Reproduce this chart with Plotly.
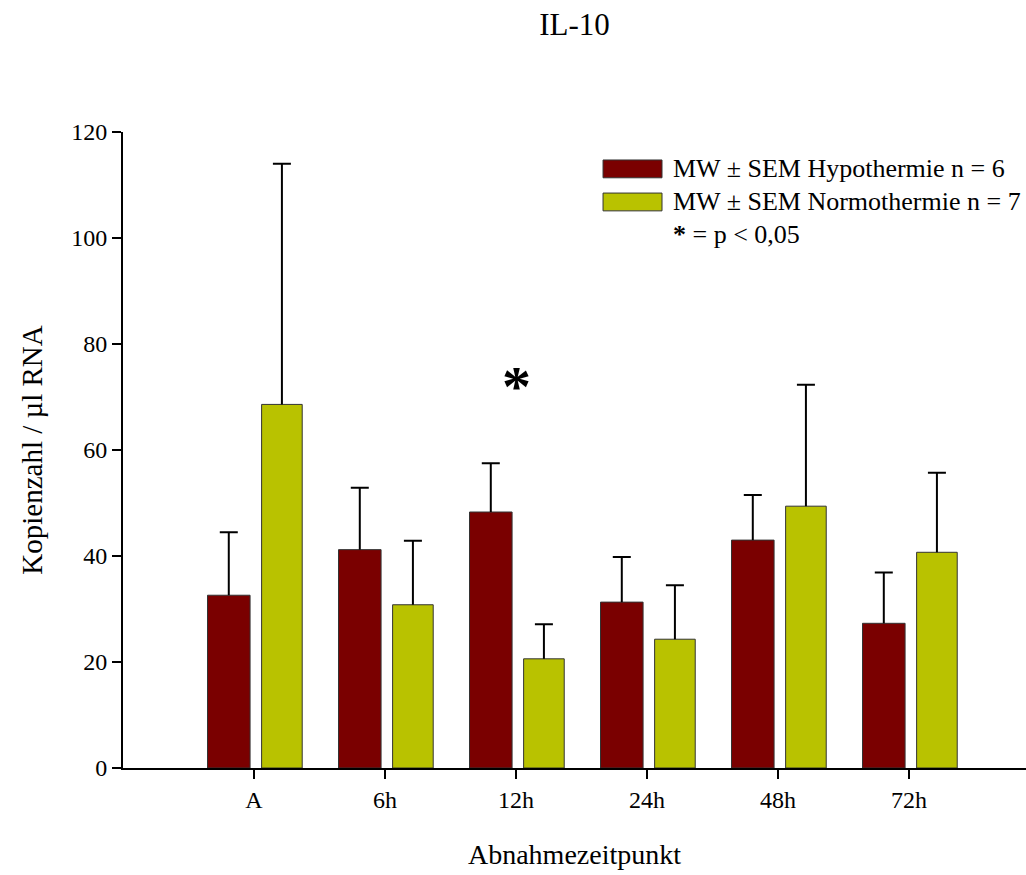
import plotly.graph_objects as go

# Sampling times and group means / SEM (copies per µl RNA)
categories = ["A", "6h", "12h", "24h", "48h", "72h"]
hypo_mean = [32.6, 41.2, 48.3, 31.3, 43.0, 27.3]
hypo_sem = [11.9, 11.7, 9.2, 8.5, 8.5, 9.6]
normo_mean = [68.6, 30.8, 20.6, 24.3, 49.4, 40.7]
normo_sem = [45.4, 12.1, 6.5, 10.2, 22.9, 15.0]

hypo_name = "MW ± SEM Hypothermie n = 6"
normo_name = "MW ± SEM Normothermie n = 7"
sig_note = "<b>*</b> = p < 0,05"
sig_category = "12h"
sig_level = 72

hypo_color = "#7a0000"
normo_color = "#b9c200"
font_family = "Liberation Serif, Times New Roman, serif"

groups = [
    (hypo_name, hypo_mean, hypo_sem, hypo_color, 0.325, -0.355),
    (normo_name, normo_mean, normo_sem, normo_color, 0.31, 0.058),
]

fig = go.Figure()

for name, mean, sem, color, w, off in groups:
    # filled bar
    fig.add_trace(go.Bar(
        x=categories, y=mean, name=name, width=w, offset=off,
        marker=dict(color=color, line=dict(color="#333333", width=1)),
        showlegend=False,
    ))
    # upward SEM stem without any cross-bar
    fig.add_trace(go.Bar(
        x=categories, y=mean, width=w, offset=off,
        marker=dict(color="rgba(0,0,0,0)", line=dict(width=0)),
        error_y=dict(type="data", array=sem, arrayminus=[0] * len(sem),
                     symmetric=False, color="black", thickness=2, width=0),
        showlegend=False, hoverinfo="skip",
    ))
    # cross-bar at the top of the whisker only
    tops = [m + s for m, s in zip(mean, sem)]
    fig.add_trace(go.Bar(
        x=categories, y=tops, width=w, offset=off,
        marker=dict(color="rgba(0,0,0,0)", line=dict(width=0)),
        error_y=dict(type="data", array=[0] * len(sem), arrayminus=[0] * len(sem),
                     symmetric=False, color="black", thickness=2, width=9),
        showlegend=False, hoverinfo="skip",
    ))

# Hand-built legend: wide colour swatches with text beside them
legend_rows = [(hypo_color, hypo_name, 0.942), (normo_color, normo_name, 0.890)]
for color, label, yc in legend_rows:
    fig.add_shape(type="rect", xref="paper", yref="paper",
                  x0=0.5316, x1=0.5969, y0=yc - 0.014, y1=yc + 0.014,
                  fillcolor=color, line=dict(color="#333333", width=1))
    fig.add_annotation(xref="paper", yref="paper", x=0.607, y=yc,
                       text=label, showarrow=False, xanchor="left", yanchor="middle",
                       font=dict(family=font_family, size=26, color="black"))
fig.add_annotation(xref="paper", yref="paper", x=0.607, y=0.8396,
                   text=sig_note, showarrow=False, xanchor="left", yanchor="middle",
                   font=dict(family=font_family, size=26, color="black"))

# Significance marker above the 12h pair
fig.add_annotation(x=sig_category, y=sig_level, text="<b>*</b>", showarrow=False,
                   xanchor="center", yanchor="middle",
                   font=dict(family=font_family, size=58, color="black"))

fig.update_layout(
    width=1026, height=875,
    margin=dict(l=123, r=0, t=132, b=107),
    paper_bgcolor="white", plot_bgcolor="white",
    font=dict(family=font_family, size=24, color="black"),
    title=dict(text="IL-10", x=0.56, xanchor="center", y=0.972, yanchor="middle",
               font=dict(family=font_family, size=31, color="black")),
    barmode="overlay",
)
fig.update_xaxes(
    type="category", range=[-1.0, 5.893],
    showline=True, linecolor="black", linewidth=2,
    ticks="outside", ticklen=9, tickwidth=2, tickcolor="black",
    showgrid=False, zeroline=False,
    tickfont=dict(family=font_family, size=24),
    title=dict(text="Abnahmezeitpunkt", standoff=33,
               font=dict(family=font_family, size=28)),
)
fig.update_yaxes(
    range=[0, 120], tickvals=[0, 20, 40, 60, 80, 100, 120],
    showline=True, linecolor="black", linewidth=2,
    ticks="outside", ticklen=9, tickwidth=2, tickcolor="black",
    showgrid=False, zeroline=False,
    tickfont=dict(family=font_family, size=24),
    title=dict(text="Kopienzahl / µl RNA", standoff=20,
               font=dict(family=font_family, size=29)),
)

fig.write_html("out.html")
